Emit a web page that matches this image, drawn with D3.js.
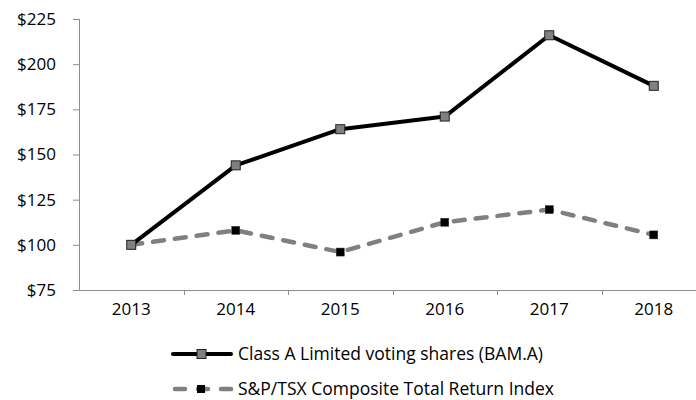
<!DOCTYPE html>
<html><head><meta charset="utf-8">
<script src="https://cdn.jsdelivr.net/npm/d3@7"></script>
<style>body{margin:0;background:#fff}svg{display:block}</style>
</head><body>
<script>
const years = ["2013","2014","2015","2016","2017","2018"];
const classA = [100, 144, 164, 171, 216, 188];
const tsx = [100, 108, 96, 112.5, 119.5, 105.5];
const yTicks = [75, 100, 125, 150, 175, 200, 225];
const seriesNames = ["Class A Limited voting shares (BAM.A)", "S&P/TSX Composite Total Return Index"];

const W = 696, H = 400;
const svg = d3.select("body").append("svg").attr("width", W).attr("height", H);
const font = "'Open Sans', sans-serif";
const fs = 17;
const axisColor = "#8c8c8c";

const x = d3.scaleBand().domain(years).range([79, 706]);
const y = d3.scaleLinear().domain([75, 225]).range([290, 19]);

// y axis
const ya = svg.append("g").attr("transform", "translate(79,0)")
  .call(d3.axisLeft(y).tickValues(yTicks).tickSize(6).tickPadding(17).tickFormat(d => "$" + d));
ya.select(".domain").attr("stroke", axisColor).attr("d", "M0.5,19V290.5");
ya.selectAll(".tick line").attr("stroke", axisColor);
ya.selectAll(".tick text").attr("font-family", font).attr("font-size", fs).attr("fill", "#000");

// x axis
const xa = svg.append("g").attr("transform", "translate(0,290)")
  .call(d3.axisBottom(x).tickSize(0).tickPadding(13));
xa.select(".domain").attr("stroke", axisColor).attr("d", "M79,0.5H696");
xa.selectAll(".tick text").attr("font-family", font).attr("font-size", fs).attr("fill", "#000");
xa.selectAll(".bt").data(years.slice(1)).enter().append("line")
  .attr("x1", d => Math.round(x(d)) + 0.5).attr("x2", d => Math.round(x(d)) + 0.5)
  .attr("y1", 0).attr("y2", 5).attr("stroke", axisColor);

const cx = d => x(d) + x.bandwidth() / 2;
const line = d3.line().x((d, i) => cx(years[i])).y(d => y(d));

// TSX dashed
svg.append("path").datum(tsx).attr("d", line).attr("fill", "none")
  .attr("stroke", "#808080").attr("stroke-width", 4.5)
  .attr("stroke-dasharray", "11,11").attr("stroke-linecap", "round");
svg.selectAll(".m2").data(tsx).enter().append("rect")
  .attr("x", (d, i) => cx(years[i]) - 4).attr("y", d => y(d) - 4)
  .attr("width", 8).attr("height", 8).attr("fill", "#000").attr("stroke", "#333").attr("stroke-width", 0.5);

// Class A
svg.append("path").datum(classA).attr("d", line).attr("fill", "none")
  .attr("stroke", "#000").attr("stroke-width", 4).attr("stroke-linejoin", "round");
svg.selectAll(".m1").data(classA).enter().append("rect")
  .attr("x", (d, i) => cx(years[i]) - 4.5).attr("y", d => y(d) - 4.5)
  .attr("width", 9).attr("height", 9).attr("fill", "#808080").attr("stroke", "#222").attr("stroke-width", 1);

// legend
const lg = svg.append("g");
const ly1 = 354, ly2 = 389;
lg.append("line").attr("x1", 173).attr("x2", 231).attr("y1", ly1).attr("y2", ly1)
  .attr("stroke", "#000").attr("stroke-width", 4).attr("stroke-linecap", "round");
lg.append("rect").attr("x", 197).attr("y", ly1 - 4.5).attr("width", 9).attr("height", 9)
  .attr("fill", "#808080").attr("stroke", "#222");
lg.append("line").attr("x1", 175).attr("x2", 231).attr("y1", ly2).attr("y2", ly2)
  .attr("stroke", "#808080").attr("stroke-width", 4.5).attr("stroke-linecap", "round")
  .attr("stroke-dasharray", "10,13");
lg.append("rect").attr("x", 197).attr("y", ly2 - 4).attr("width", 8).attr("height", 8)
  .attr("fill", "#000");
lg.selectAll("text").data(seriesNames).enter().append("text")
  .attr("x", 238).attr("y", (d, i) => i ? ly2 : ly1).attr("dy", "0.35em")
  .attr("font-family", font).attr("font-size", 17.5).attr("fill", "#000").text(d => d);
</script>
</body></html>
